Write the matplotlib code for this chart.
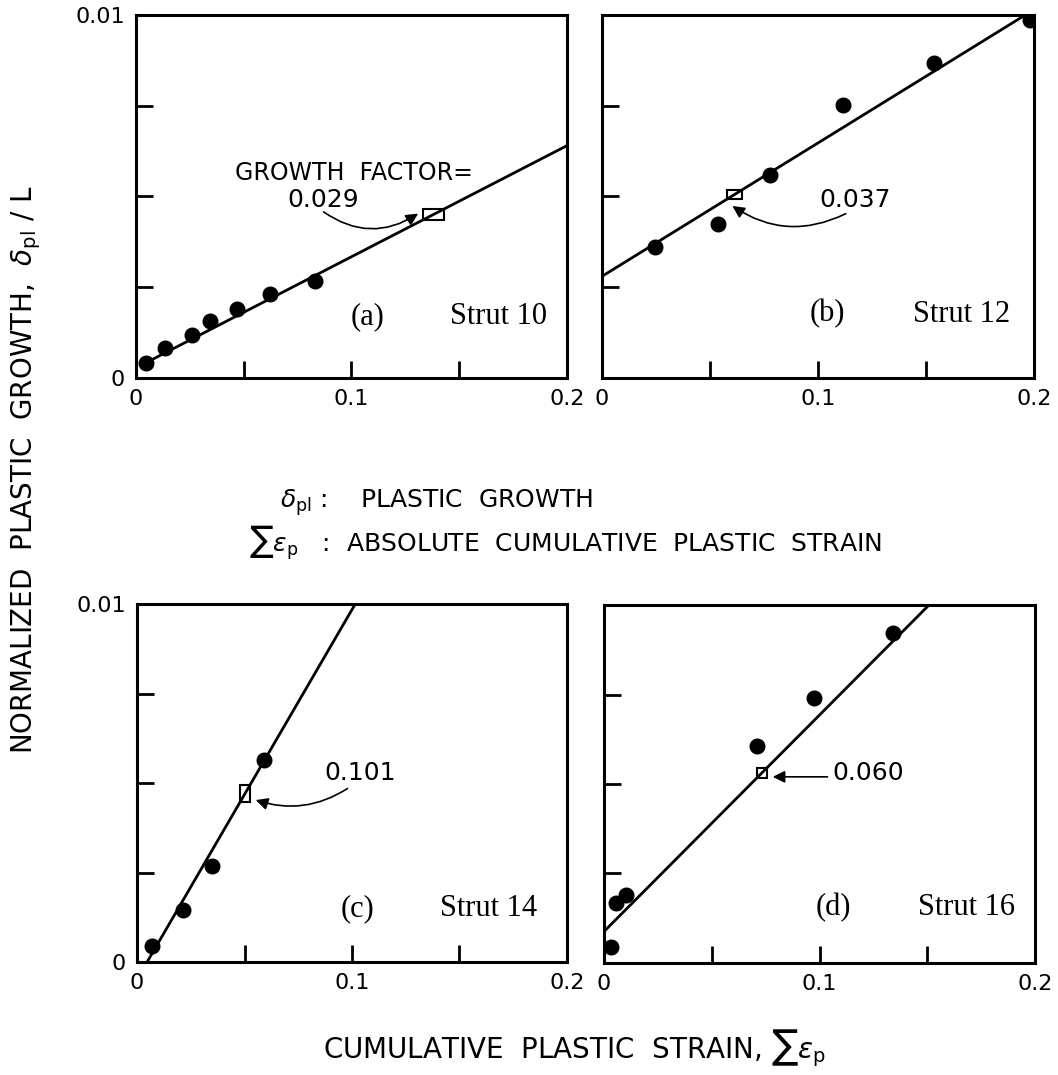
import matplotlib
matplotlib.use("Agg")
import numpy as np
import matplotlib.pyplot as plt
from matplotlib.patches import Rectangle

# Messpunkte
strut10_x = [0.0045, 0.0134, 0.0258, 0.0344, 0.0467, 0.0623, 0.0832]
strut10_y = [0.00041, 0.00082, 0.00117, 0.00157, 0.0019, 0.0023, 0.00267]
strut12_x = [0.0244, 0.0537, 0.0776, 0.1115, 0.1537, 0.1981]
strut12_y = [0.00362, 0.00425, 0.00558, 0.00752, 0.00867, 0.00986]
strut14_x = [0.0069, 0.0215, 0.035, 0.0593]
strut14_y = [0.00045, 0.00144, 0.00268, 0.00565]
strut16_x = [0.0031, 0.0057, 0.0104, 0.0709, 0.0973, 0.134]
strut16_y = [0.00044, 0.00167, 0.00189, 0.00607, 0.0074, 0.00923]

# Ausgleichsgeraden (Endpunkte)
fit10_x = [0.004, 0.2]
fit10_y = [0.0004, 0.0064]
fit12_x = [0.0, 0.196]
fit12_y = [0.0028, 0.01]
fit14_x = [0.0047, 0.1015]
fit14_y = [0.0, 0.01]
fit16_x = [0.0, 0.1508]
fit16_y = [0.00088, 0.01]

panel_tags = ["(a)", "(b)", "(c)", "(d)"]
strut_names = ["Strut 10", "Strut 12", "Strut 14", "Strut 16"]
factor_labels = ["0.029", "0.037", "0.101", "0.060"]
# Steigungsdreieck: Anfang und Ende auf der x-Achse
box_x0 = [0.133, 0.058, 0.048, 0.071]
box_x1 = [0.143, 0.065, 0.0525, 0.0757]

x_ticks = [0, 0.05, 0.1, 0.15, 0.2]
x_ticklabels = ["0", "", "0.1", "", "0.2"]
y_ticks = [0, 0.0025, 0.005, 0.0075, 0.01]
y_ticklabels = ["0", "", "", "", "0.01"]

plt.rcParams['font.family'] = ['DejaVu Sans']
plt.rcParams['mathtext.fontset'] = 'dejavusans'

fig = plt.figure(figsize=(10.58, 10.75), dpi=100)

ax_pos = [
    [0.1285, 0.6484, 0.4074, 0.3377],
    [0.569, 0.6484, 0.4083, 0.3377],
    [0.1295, 0.1051, 0.4064, 0.333],
    [0.5709, 0.1042, 0.4074, 0.333],
]
daten = [
    (strut10_x, strut10_y, fit10_x, fit10_y),
    (strut12_x, strut12_y, fit12_x, fit12_y),
    (strut14_x, strut14_y, fit14_x, fit14_y),
    (strut16_x, strut16_y, fit16_x, fit16_y),
]

axes = []
for i in range(4):
    ax = fig.add_axes(ax_pos[i])
    px, py, fx, fy = daten[i]
    ax.plot(fx, fy, color='black', lw=2.0, solid_capstyle='butt', zorder=2)
    ax.plot(px, py, 'o', color='black', ms=10.5, zorder=3)
    # kleines Kaestchen, Diagonale liegt auf der Geraden
    y0 = np.interp(box_x0[i], fx, fy)
    y1 = np.interp(box_x1[i], fx, fy)
    ax.add_patch(Rectangle((box_x0[i], y0), box_x1[i] - box_x0[i], y1 - y0,
                           fill=False, ec='black', lw=1.5, zorder=4))
    ax.set_xlim(0, 0.2)
    ax.set_ylim(0, 0.01)
    ax.set_xticks(x_ticks)
    ax.set_xticklabels(x_ticklabels)
    ax.set_yticks(y_ticks)
    if i % 2 == 0:
        ax.set_yticklabels(y_ticklabels)
    else:
        ax.set_yticklabels([""] * 5)
    ax.tick_params(direction='in', length=12, width=2, labelsize=16, pad=8)
    for sp in ax.spines.values():
        sp.set_linewidth(2.2)
    axes.append(ax)

# Beschriftung der Teilbilder
tag_pos = [(0.497, 0.168), (0.48, 0.176), (0.474, 0.15), (0.49, 0.156)]
name_end = [0.953, 0.944, 0.93, 0.953]
for i in range(4):
    axes[i].text(tag_pos[i][0], tag_pos[i][1], panel_tags[i], transform=axes[i].transAxes,
                 ha='left', va='center', fontsize=22, family='Liberation Serif')
    axes[i].text(name_end[i], tag_pos[i][1], strut_names[i], transform=axes[i].transAxes,
                 ha='right', va='center', fontsize=22, family='Liberation Serif')

# Pfeile mit Wachstumsfaktor
axes[0].text(0.101, 0.00565, "GROWTH  FACTOR=", ha='center', va='center', fontsize=17)
axes[0].text(0.087, 0.0049, factor_labels[0], ha='center', va='center', fontsize=18)
axes[0].annotate("", xy=(0.132, 0.00457), xytext=(0.086, 0.00462),
                 arrowprops=dict(arrowstyle='-|>', color='black', lw=1.2,
                                 connectionstyle='arc3,rad=0.35', mutation_scale=18))

axes[1].text(0.117, 0.0049, factor_labels[1], ha='center', va='center', fontsize=18)
axes[1].annotate("", xy=(0.0593, 0.00478), xytext=(0.114, 0.00456),
                 arrowprops=dict(arrowstyle='-|>', color='black', lw=1.2,
                                 connectionstyle='arc3,rad=-0.3', mutation_scale=18))

axes[2].text(0.1037, 0.00528, factor_labels[2], ha='center', va='center', fontsize=18)
axes[2].annotate("", xy=(0.054, 0.00455), xytext=(0.099, 0.00489),
                 arrowprops=dict(arrowstyle='-|>', color='black', lw=1.2,
                                 connectionstyle='arc3,rad=-0.25', mutation_scale=18))

axes[3].text(0.106, 0.0053, factor_labels[3], ha='left', va='center', fontsize=18)
axes[3].annotate("", xy=(0.077, 0.0052), xytext=(0.105, 0.0052),
                 arrowprops=dict(arrowstyle='-|>', color='black', lw=1.2, mutation_scale=18))

# Legende in der Mitte
fig.text(0.265, 0.532, r"$\delta_{\rm pl}$ :    PLASTIC  GROWTH", ha='left', va='center', fontsize=18)
fig.text(0.235, 0.495, r"$\sum\epsilon_{\rm p}$   :  ABSOLUTE  CUMULATIVE  PLASTIC  STRAIN",
         ha='left', va='center', fontsize=18)

# Achsentitel
fig.text(0.543, 0.025, r"CUMULATIVE  PLASTIC  STRAIN, $\sum\epsilon_{\rm p}$",
         ha='center', va='center', fontsize=20)
fig.text(0.025, 0.563, r"NORMALIZED  PLASTIC  GROWTH,  $\delta_{\rm pl}$ / L",
         ha='center', va='center', rotation=90, fontsize=20)

plt.savefig("out.png", dpi=100)
